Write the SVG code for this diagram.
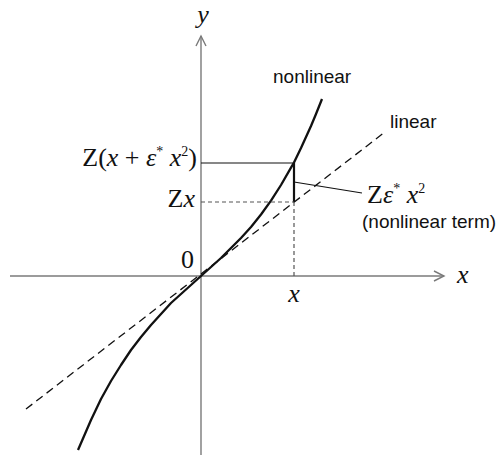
<svg xmlns="http://www.w3.org/2000/svg" width="504" height="455" viewBox="0 0 504 455">
<style>
.axis{stroke:#7a7a7a;stroke-width:1.4;fill:none}
.curve{stroke:#111;stroke-width:2.3;fill:none;stroke-linejoin:round}
.lin{stroke:#111;stroke-width:1.3;fill:none;stroke-dasharray:8,5}
.guide{stroke:#555;stroke-width:1.2;fill:none;stroke-dasharray:4,3}
.thin{stroke:#111;stroke-width:1.1;fill:none}
.math{font-family:"Liberation Serif","Times New Roman",serif;font-size:26px;fill:#111}
.it{font-style:italic}
.sup{font-size:14px}
.sans{font-family:"Liberation Sans",Arial,sans-serif;font-size:19px;fill:#111}
</style>
<g id="axes">
<line class="axis" x1="10" y1="276" x2="444" y2="276"/>
<polyline class="axis" points="434,271 444,276 434,281"/>
<line class="axis" x1="201" y1="455" x2="201" y2="36"/>
<polyline class="axis" points="196,46 201,36 206,46"/>
</g>
<g id="connectors">
<line class="lin" x1="26" y1="409" x2="385" y2="132"/>
<polyline class="curve" points="78,450 91,420 101,399 111,381 121,365 131,350 141,337 151,325 161,314 171,303 181,294 191,285 201,276 211,267 221,258 231,248 241,238 251,227 261,214.5 271,200.6 281,185 291,167.7 294,162.5 301,148 311,126 316,114 322,99"/>
<line class="thin" x1="201" y1="163" x2="294" y2="163"/>
<line x1="294" y1="163" x2="294" y2="202" stroke="#111" stroke-width="2.2"/>
<line class="guide" x1="201" y1="202" x2="294" y2="202"/>
<line class="guide" x1="294" y1="202" x2="294" y2="276"/>
<line class="thin" x1="294" y1="182" x2="362" y2="193"/>
</g>
<g id="labels">
<text class="math it" x="203" y="23" text-anchor="middle">y</text>
<text class="math it" x="457" y="283">x</text>
<text class="math" x="181" y="268">0</text>
<text class="math it" x="294" y="302" text-anchor="middle">x</text>
<text class="math" x="197" y="166" text-anchor="end">Z(<tspan class="it">x</tspan> + <tspan class="it">ε</tspan><tspan class="sup" dy="-10">*</tspan><tspan class="it" dy="10"> x</tspan><tspan class="sup" dy="-10">2</tspan><tspan dy="10">)</tspan></text>
<text class="math" x="195" y="207" text-anchor="end">Z<tspan class="it">x</tspan></text>
<text class="math" x="367" y="203">Z<tspan class="it">ε</tspan><tspan class="sup" dy="-10">*</tspan><tspan class="it" dy="10"> x</tspan><tspan class="sup" dy="-10">2</tspan></text>
<text class="sans" x="362" y="228">(nonlinear term)</text>
<text class="sans" x="273" y="83">nonlinear</text>
<text class="sans" x="390" y="128">linear</text>
</g>
</svg>
